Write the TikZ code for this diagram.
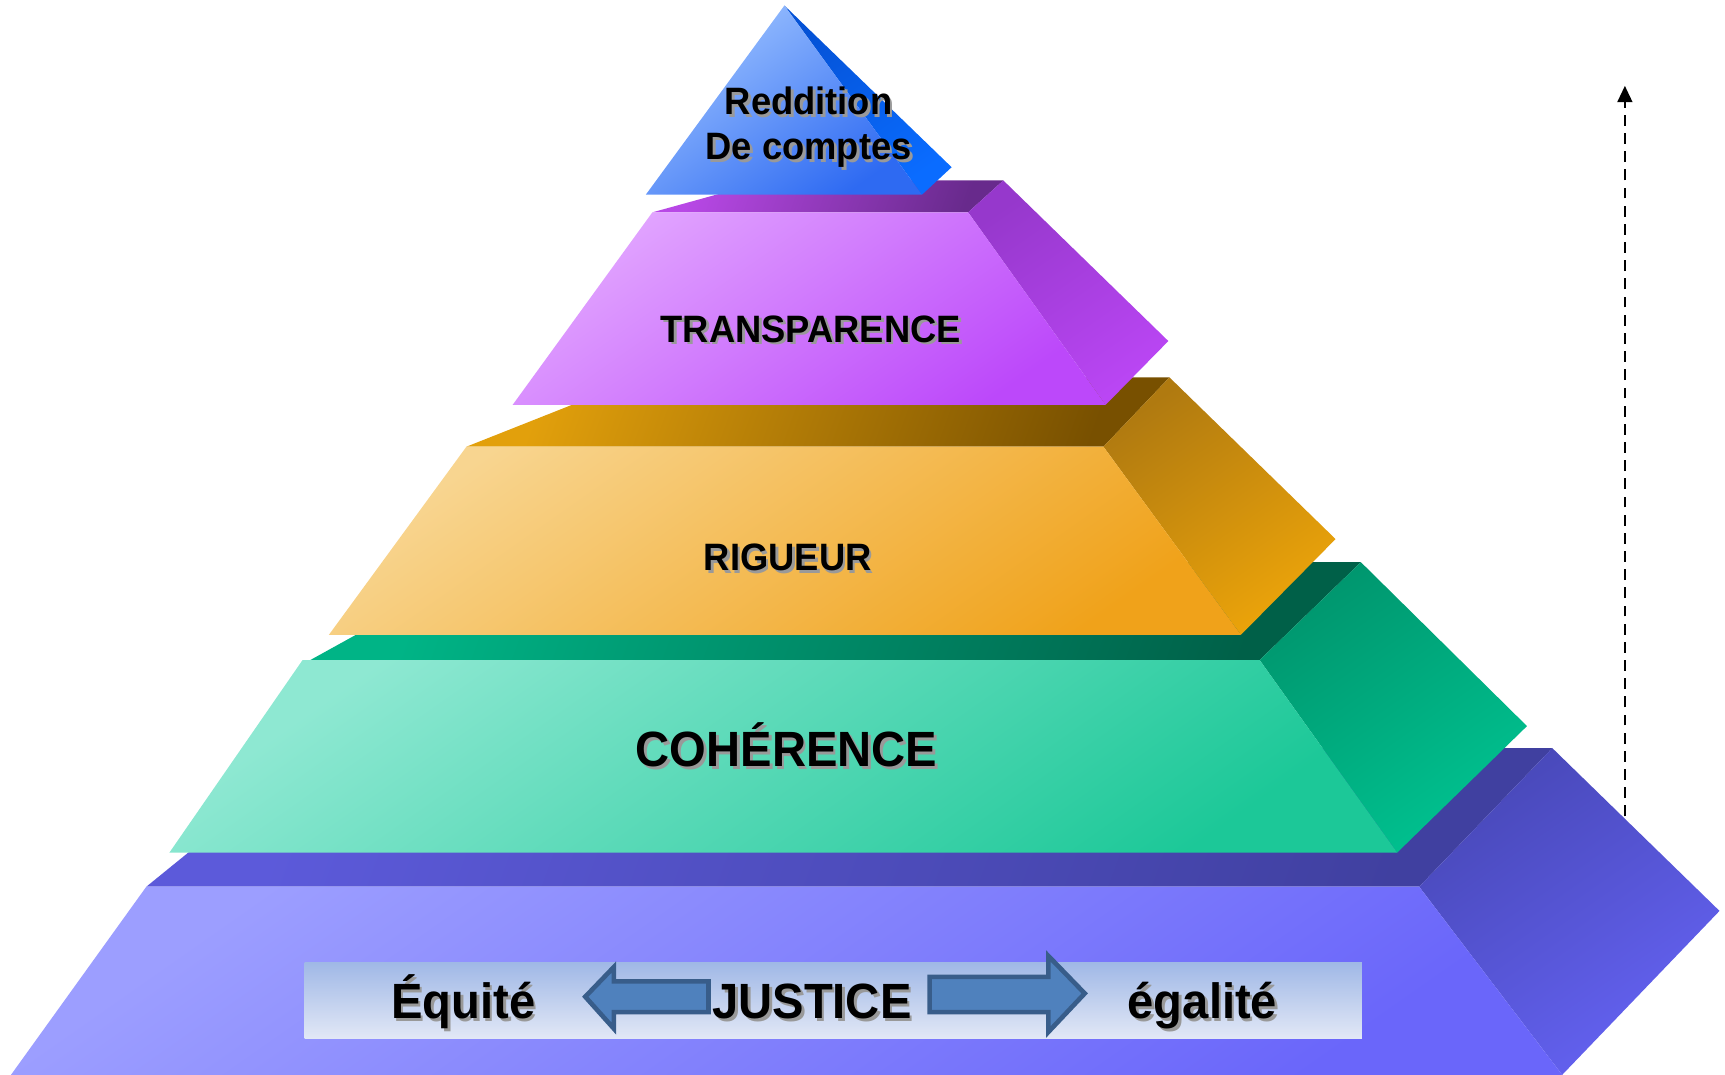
\documentclass[tikz,border=0pt]{standalone}
\usepackage{fontspec}
\setmainfont{Liberation Sans}
\usetikzlibrary{arrows.meta}
\definecolor{triF1}{HTML}{9CC2FF}\definecolor{triF2}{HTML}{2E6AF2}
\definecolor{triS1}{HTML}{0452D6}\definecolor{triS2}{HTML}{0A6CFF}
\definecolor{purF1}{HTML}{E2A6FF}\definecolor{purF2}{HTML}{BC48FA}
\definecolor{purS1}{HTML}{9638CC}\definecolor{purS2}{HTML}{BA46F4}
\definecolor{purT1}{HTML}{B848E6}\definecolor{purT2}{HTML}{682A8C}
\definecolor{oraF1}{HTML}{F8D590}\definecolor{oraF2}{HTML}{F0A21A}
\definecolor{oraS1}{HTML}{B07A10}\definecolor{oraS2}{HTML}{ECA40A}
\definecolor{oraT1}{HTML}{E2A00C}\definecolor{oraT2}{HTML}{785000}
\definecolor{grnF1}{HTML}{8EE8D2}\definecolor{grnF2}{HTML}{1CC898}
\definecolor{grnS1}{HTML}{00966E}\definecolor{grnS2}{HTML}{00C290}
\definecolor{grnT1}{HTML}{00B486}\definecolor{grnT2}{HTML}{006048}
\definecolor{bluF1}{HTML}{9C9EFF}\definecolor{bluF2}{HTML}{6A66FA}
\definecolor{bluS1}{HTML}{4848B8}\definecolor{bluS2}{HTML}{6462F2}
\definecolor{bluT1}{HTML}{5C5ADA}\definecolor{bluT2}{HTML}{4040A0}
\definecolor{boxT}{HTML}{A0B8E6}\definecolor{boxB}{HTML}{E2E8F6}
\definecolor{arrF}{HTML}{4F81BD}\definecolor{arrD}{HTML}{385D8A}
\newcommand{\tallbox}[1]{\scalebox{1}[1.05]{#1}}
\begin{document}
\begin{tikzpicture}[x=0.1mm,y=-0.1mm,
  frontface/.style 2 args={top color=#1, bottom color=#2, shading angle=35},
  sideface/.style 2 args={top color=#1, bottom color=#2, shading angle=35},
  topface/.style 2 args={top color=#1, bottom color=#2, shading angle=70},
  small/.style={font=\fontsize{9.4}{11.7}\selectfont\bfseries, anchor=base, inner sep=0pt},
  big/.style={font=\fontsize{12.2}{14}\selectfont\bfseries, anchor=base, inner sep=0pt},
  shadowtxt/.style={text=black!40, xshift=0.25mm, yshift=-0.25mm},
  bigarrow/.style={fill=arrF, draw=arrD, line width=1.2pt, line join=miter}]
\useasboundingbox (0,0) rectangle (1568,977);
% ---- base (blue)
\shade[topface={bluT1}{bluT2}] (133,806) -- (288,680) -- (1411,680) -- (1290,806) -- cycle;
\shade[sideface={bluS1}{bluS2}] (1290,806) -- (1411,680) -- (1563,828) -- (1420,977) -- cycle;
\shade[frontface={bluF1}{bluF2}] (133,806) -- (1290,806) -- (1420,977) -- (10,977) -- cycle;
% ---- green
\shade[topface={grnT1}{grnT2}] (282,600) -- (443,511) -- (1237,511) -- (1145,600) -- cycle;
\shade[sideface={grnS1}{grnS2}] (1145,600) -- (1237,511) -- (1388,660) -- (1270,775) -- cycle;
\shade[frontface={grnF1}{grnF2}] (275,600) -- (1145,600) -- (1270,775) -- (154,775) -- cycle;
% ---- orange
\shade[topface={oraT1}{oraT2}] (424,406) -- (583,343) -- (1063,343) -- (1003,406) -- cycle;
\shade[sideface={oraS1}{oraS2}] (1003,406) -- (1063,343) -- (1214,490) -- (1128,577) -- cycle;
\shade[frontface={oraF1}{oraF2}] (424,406) -- (1003,406) -- (1128,577) -- (299,577) -- cycle;
% ---- purple
\shade[topface={purT1}{purT2}] (593,193) -- (698,164) -- (912,164) -- (880,193) -- cycle;
\shade[sideface={purS1}{purS2}] (880,193) -- (912,164) -- (1062,310) -- (1005,368) -- cycle;
\shade[frontface={purF1}{purF2}] (593,193) -- (880,193) -- (1005,368) -- (466,368) -- cycle;
% ---- top triangle
\shade[sideface={triS1}{triS2}] (713,5) -- (865,152) -- (838,177) -- cycle;
\shade[frontface={triF1}{triF2}] (713,5) -- (838,177) -- (587,177) -- cycle;
% ---- justice box
\shade[top color=boxT, bottom color=boxB] (277,875) rectangle (1238,944);
\draw[bigarrow] (532,906) -- (558,879) -- (558,892) -- (644,892) -- (644,920) -- (558,920) -- (558,935) -- cycle;
\draw[bigarrow] (986,903) -- (953,869) -- (953,888) -- (845,888) -- (845,920) -- (953,920) -- (953,938) -- cycle;
% ---- texts
\node[small, shadowtxt] (redditionS) at (735,104) {\tallbox{Reddition}};
\node[small] (reddition) at (735,104) {\tallbox{Reddition}};
\node[small, shadowtxt] (comptesS) at (735,145) {\tallbox{De comptes}};
\node[small] (comptes) at (735,145) {\tallbox{De comptes}};
\node[small, shadowtxt] (transparenceS) at (737,311) {\tallbox{TRANSPARENCE}};
\node[small] (transparence) at (737,311) {\tallbox{TRANSPARENCE}};
\node[small, shadowtxt] (rigueurS) at (716,519) {\tallbox{RIGUEUR}};
\node[small] (rigueur) at (716,519) {\tallbox{RIGUEUR}};
\node[big, shadowtxt] (coherenceS) at (715,697) {\tallbox{COHÉRENCE}};
\node[big] (coherence) at (715,697) {\tallbox{COHÉRENCE}};
\node[big, shadowtxt] (equiteS) at (421,926) {\tallbox{Équité}};
\node[big] (equite) at (421,926) {\tallbox{Équité}};
\node[big, shadowtxt] (justiceS) at (738,926) {\tallbox{JUSTICE}};
\node[big] (justice) at (738,926) {\tallbox{JUSTICE}};
\node[big, shadowtxt] (egaliteS) at (1093,926) {\tallbox{égalité}};
\node[big] (egalite) at (1093,926) {\tallbox{égalité}};
% ---- dashed arrow
\coordinate (arrbot) at (1477,742);
\coordinate (arrtop) at (1477,78);
\draw[dash pattern=on 2.8pt off 1.9pt, line width=0.6pt, -{Triangle[length=4.2pt,width=3.8pt]}] (arrbot) -- (arrtop);
\end{tikzpicture}
\end{document}
